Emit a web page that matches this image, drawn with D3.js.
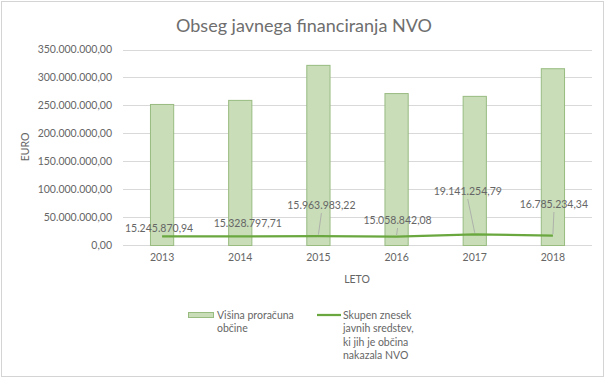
<!DOCTYPE html>
<html>
<head>
<meta charset="utf-8">
<script src="https://cdn.jsdelivr.net/npm/d3@7"></script>
<style>
  html, body { margin: 0; padding: 0; background: #fff; }
  svg text { font-family: Lato, "Open Sans", sans-serif; }
</style>
</head>
<body>
<svg id="chart" width="606" height="379"></svg>
<script>
// ---- data ----
const years = ["2013", "2014", "2015", "2016", "2017", "2018"];
const budget = [252500000, 259800000, 322500000, 272000000, 267000000, 316500000];
const ngoFunding = [15245870.94, 15328797.71, 15963983.22, 15058842.08, 19141254.79, 16785234.34];
const yTicks = [0, 50000000, 100000000, 150000000, 200000000, 250000000, 300000000, 350000000];
const seriesNames = ["Višina proračuna občine", "Skupen znesek javnih sredstev, ki jih je občina nakazala NVO"];

// ---- label placement (layout only) ----
const labelDx = [-3, 7.5, 3, 1, -7, 1];
const labelDy = [-4.5, -9.4, -27, -12.6, -39.3, -27.6];
const leader = [false, false, true, true, true, true];

const svg = d3.select("#chart");
const textColor = "#666666";
const loc = d3.formatLocale({decimal: ",", thousands: ".", grouping: [3], currency: ["", "€"]});
const fmt = loc.format(",.2f");

// border
svg.append("rect").attr("x", 1.5).attr("y", 1.5).attr("width", 602).attr("height", 375)
  .attr("fill", "#fff").attr("stroke", "#d4d4d4").attr("stroke-width", 1);

// title
svg.append("text").attr("x", 304).attr("y", 32).attr("text-anchor", "middle")
  .attr("font-size", 18).attr("fill", "#6e6e6e").text("Obseg javnega financiranja NVO");

const x = d3.scaleBand().domain(years).range([123, 592]).paddingInner(0.69).paddingOuter(0.345);
const y = d3.scaleLinear().domain([0, 350000000]).range([245, 49.5]);

// gridlines
svg.append("g").selectAll("line").data(yTicks).join("line")
  .attr("x1", 123).attr("x2", 592)
  .attr("y1", d => Math.round(y(d)) + 0.5).attr("y2", d => Math.round(y(d)) + 0.5)
  .attr("stroke", "#d9d9d9").attr("stroke-width", 1);

// y axis tick labels
const yAxis = d3.axisLeft(y).tickValues(yTicks).tickFormat(fmt).tickSize(0).tickPadding(0);
const gy = svg.append("g").attr("transform", "translate(112,0)").call(yAxis);
gy.select(".domain").remove();
gy.selectAll("text").attr("font-size", 10.5).attr("fill", textColor).attr("font-family", "Lato, sans-serif");

// x axis labels
const xAxis = d3.axisBottom(x).tickSize(0).tickPadding(0);
const gx = svg.append("g").attr("transform", "translate(0,254)").call(xAxis);
gx.select(".domain").remove();
gx.selectAll("text").attr("font-size", 10.5).attr("fill", textColor).attr("font-family", "Lato, sans-serif");

// bars
svg.append("g").selectAll("rect").data(years).join("rect")
  .attr("x", d => x(d) + 0.5)
  .attr("y", (d, i) => y(budget[i]) + 0.5)
  .attr("width", x.bandwidth() - 1)
  .attr("height", (d, i) => y(0) - y(budget[i]))
  .attr("fill", "#c9ddb9").attr("stroke", "#98bb80").attr("stroke-width", 1);

// line
const cx = d => x(d) + x.bandwidth() / 2;
const line = d3.line().x((d, i) => cx(years[i])).y(d => y(d));
svg.append("path").datum(ngoFunding).attr("d", line)
  .attr("fill", "none").attr("stroke", "#6aa83f").attr("stroke-width", 2.25);

// leader lines & data labels
const lab = svg.append("g");
ngoFunding.forEach((v, i) => {
  const px = cx(years[i]), py = y(v);
  const lx = px + labelDx[i], ly = py + labelDy[i];
  if (leader[i]) {
    lab.append("line").attr("x1", lx).attr("y1", ly + 4).attr("x2", px).attr("y2", py - 1.5)
      .attr("stroke", "#a6a6a6").attr("stroke-width", 0.8);
  }
  lab.append("text").attr("x", lx).attr("y", ly).attr("text-anchor", "middle")
    .attr("font-size", 10.5).attr("fill", textColor).text(fmt(v));
});

// axis titles
svg.append("text").attr("transform", "translate(29,147) rotate(-90)").attr("text-anchor", "middle")
  .attr("font-size", 10.5).attr("fill", textColor).text("EURO");
svg.append("text").attr("x", 357).attr("y", 283).attr("text-anchor", "middle")
  .attr("font-size", 10.5).attr("fill", textColor).text("LETO");

// legend
const leg = svg.append("g");
leg.append("rect").attr("x", 188.5).attr("y", 312.5).attr("width", 25).attr("height", 5)
  .attr("fill", "#c9ddb9").attr("stroke", "#98bb80");
const t1 = leg.append("text").attr("x", 217).attr("y", 319).attr("font-size", 10.5).attr("fill", textColor);
t1.append("tspan").attr("x", 217).attr("dy", 0).text("Višina proračuna");
t1.append("tspan").attr("x", 217).attr("dy", 13.3).text("občine");
leg.append("line").attr("x1", 317).attr("x2", 341).attr("y1", 315).attr("y2", 315)
  .attr("stroke", "#6aa83f").attr("stroke-width", 2.25);
const t2 = leg.append("text").attr("x", 343).attr("y", 319).attr("font-size", 10.5).attr("fill", textColor);
["Skupen znesek", "javnih sredstev,", "ki jih je občina", "nakazala NVO"].forEach((s, i) => {
  t2.append("tspan").attr("x", 343).attr("dy", i === 0 ? 0 : 13.3).text(s);
});
</script>
</body>
</html>
